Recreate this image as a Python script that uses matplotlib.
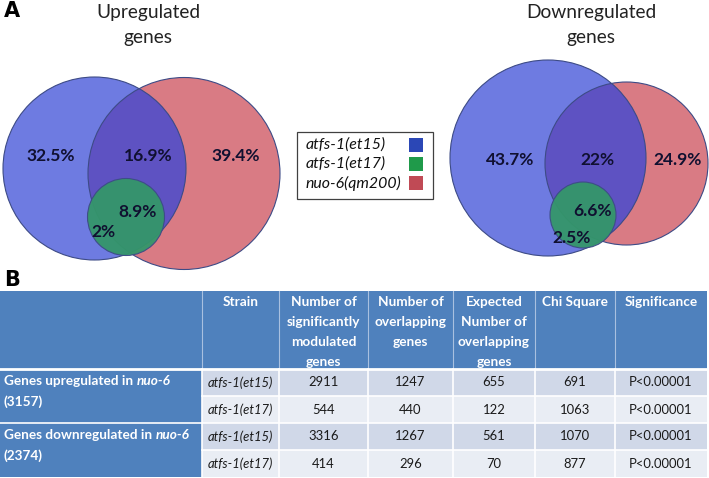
import matplotlib
matplotlib.use("Agg")
import matplotlib.pyplot as plt
from matplotlib.patches import Circle, Rectangle

plt.rcParams['font.family'] = ['Lato', 'DejaVu Sans']

# ---------------- data ----------------
venn_titles = ["Upregulated\ngenes", "Downregulated\ngenes"]
up_pct = ["32.5%", "16.9%", "39.4%", "8.9%", "2%"]
down_pct = ["43.7%", "22%", "24.9%", "6.6%", "2.5%"]
legend_labels = ["atfs-1(et15)", "atfs-1(et17)", "nuo-6(qm200)"]

header = ["Strain",
          "Number of\nsignificantly\nmodulated\ngenes",
          "Number of\noverlapping\ngenes",
          "Expected\nNumber of\noverlapping\ngenes",
          "Chi Square",
          "Significance"]
group_labels = [("Genes upregulated in ", "nuo-6", "(3157)"),
                ("Genes downregulated in ", "nuo-6", "(2374)")]
strains = ["atfs-1(et15)", "atfs-1(et17)", "atfs-1(et15)", "atfs-1(et17)"]
n_modulated = [2911, 544, 3316, 414]
n_overlap = [1247, 440, 1267, 296]
n_expected = [655, 122, 561, 70]
chi_square = [691, 1063, 1070, 877]
significance = ["P<0.00001", "P<0.00001", "P<0.00001", "P<0.00001"]

# ---------------- layout / style ----------------
W, H = 709, 478
fig = plt.figure(figsize=(W / 100, H / 100), dpi=100)
ax = fig.add_axes([0, 0, 1, 1])
ax.set_xlim(0, W)
ax.set_ylim(H, 0)
ax.axis("off")

C_BLUE = "#6E7BE1"
C_RED = "#D97B84"
C_OVL = "#5E52C2"
C_GREEN = "#34966A"
C_EDGE = "#3D4B86"

venns = [
    dict(blue=(94.5, 168.5, 91.5), red=(184, 173.5, 96), green=(126, 217, 38.5),
         title=(148, 24), labels=up_pct,
         lpos=[(51, 156), (148, 156), (236, 156), (138, 212), (103, 232)]),
    dict(blue=(548, 158, 98), red=(626.5, 163.5, 81.5), green=(583, 215, 33),
         title=(591, 24), labels=down_pct,
         lpos=[(510, 160), (597, 160), (678, 160), (593, 211), (572, 238)]),
]

for i, v in enumerate(venns):
    bx, by, br = v["blue"]
    rx, ry, rr = v["red"]
    gx, gy, gr = v["green"]
    red = Circle((rx, ry), rr, facecolor=C_RED, edgecolor="none", zorder=1)
    ax.add_patch(red)
    blue = Circle((bx, by), br, facecolor=C_BLUE, edgecolor="none", zorder=2)
    ax.add_patch(blue)
    ovl = Circle((bx, by), br, facecolor=C_OVL, edgecolor="none", zorder=3)
    ax.add_patch(ovl)
    ovl.set_clip_path(Circle((rx, ry), rr, transform=ax.transData))
    ax.add_patch(Circle((rx, ry), rr, facecolor="none", edgecolor=C_EDGE, lw=0.8, zorder=4))
    ax.add_patch(Circle((bx, by), br, facecolor="none", edgecolor=C_EDGE, lw=0.8, zorder=4))
    ax.add_patch(Circle((gx, gy), gr, facecolor=C_GREEN, edgecolor=C_EDGE, lw=0.8,
                        alpha=0.95, zorder=5))
    tx, ty = v["title"]
    t1, t2 = venn_titles[i].split("\n")
    ax.text(tx, ty - 12, t1, ha="center", va="center", fontsize=13.8, color="#222222")
    ax.text(tx, ty + 13, t2, ha="center", va="center", fontsize=13.8, color="#222222")
    for lab, (lx, ly) in zip(v["labels"], v["lpos"]):
        ax.text(lx, ly, lab, ha="center", va="center", fontsize=12.5,
                fontweight="bold", color="#101030", zorder=6)

# legend
ax.add_patch(Rectangle((297, 132), 136, 67, facecolor="white", edgecolor="#404040",
                       lw=0.9, zorder=6))
leg_colors = ["#2B47B6", "#1F9A4A", "#C04A55"]
for j, (lab, col) in enumerate(zip(legend_labels, leg_colors)):
    yy = 145 + 19 * j
    ax.text(306, yy, lab, ha="left", va="center", fontsize=11.4, style="italic",
            color="#111111", zorder=7)
    ax.add_patch(Rectangle((409, yy - 7), 14, 14, facecolor=col, edgecolor="none", zorder=7))

# panel letters
ax.text(4, 11, "A", ha="left", va="center", fontsize=15, fontweight="bold",
        family="DejaVu Sans", color="black")
ax.text(4, 280, "B", ha="left", va="center", fontsize=15, fontweight="bold",
        family="DejaVu Sans", color="black")

# ---------------- table ----------------
xs = [0, 202, 279, 368, 453, 535, 615, 707]
ys = [291, 369, 396, 423, 450, 477]
T_BLUE = "#4F81BD"
ROW_A = "#D0D8E8"
ROW_B = "#E9EDF4"
HFS = 9.8
DFS = 9.4

ax.add_patch(Rectangle((xs[0], ys[0]), xs[-1] - xs[0], ys[1] - ys[0],
                       facecolor=T_BLUE, edgecolor="none", zorder=1))
ax.add_patch(Rectangle((xs[0], ys[1]), xs[1] - xs[0], ys[-1] - ys[1],
                       facecolor=T_BLUE, edgecolor="none", zorder=1))
for r in range(4):
    col = ROW_A if r % 2 == 0 else ROW_B
    ax.add_patch(Rectangle((xs[1], ys[r + 1]), xs[-1] - xs[1], ys[r + 2] - ys[r + 1],
                           facecolor=col, edgecolor="none", zorder=1))

# grid lines
for x in xs[1:-1]:
    ax.plot([x, x], [ys[0], ys[1]], color="#A9C0E0", lw=0.8, zorder=2)
    ax.plot([x, x], [ys[1], ys[-1]], color="white", lw=1.2, zorder=2)
ax.plot([xs[0], xs[-1]], [ys[1], ys[1]], color="white", lw=2.0, zorder=3)
for k in [2, 3, 4]:
    x0 = xs[0] if k == 3 else xs[1]
    ax.plot([x0, xs[-1]], [ys[k], ys[k]], color="white", lw=1.2, zorder=2)

# header text
for c, h in enumerate(header):
    cx = (xs[c + 1] + xs[c + 2]) / 2
    for li, line in enumerate(h.split("\n")):
        ax.text(cx, 302 + 20 * li, line, ha="center", va="center", fontsize=HFS,
                fontweight="bold", color="white", zorder=4)

# group labels
fig.canvas.draw()
renderer = fig.canvas.get_renderer()
for g, (pre, ital, cnt) in enumerate(group_labels):
    y0 = ys[1 + 2 * g] + 12
    t = ax.text(4, y0, pre, ha="left", va="center", fontsize=HFS, fontweight="bold",
                color="white", zorder=4)
    bb = t.get_window_extent(renderer=renderer)
    x_end = ax.transData.inverted().transform((bb.x1, bb.y0))[0]
    ax.text(x_end, y0, ital, ha="left", va="center", fontsize=HFS, fontweight="bold",
            style="italic", color="white", zorder=4)
    ax.text(4, y0 + 21, cnt, ha="left", va="center", fontsize=HFS, fontweight="bold",
            color="white", zorder=4)

# data cells
cols = [strains, n_modulated, n_overlap, n_expected, chi_square, significance]
for r in range(4):
    cy = (ys[r + 1] + ys[r + 2]) / 2
    for c, colvals in enumerate(cols):
        cx = (xs[c + 1] + xs[c + 2]) / 2
        ax.text(cx, cy, str(colvals[r]), ha="center", va="center", fontsize=DFS,
                style="italic" if c == 0 else "normal", color="#1A1A1A", zorder=4)

fig.savefig("out.png", dpi=100)
